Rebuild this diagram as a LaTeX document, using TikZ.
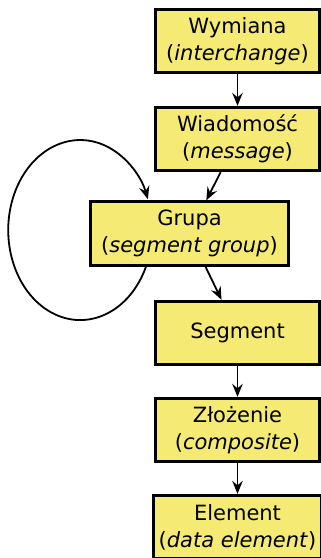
\documentclass[tikz,border=0pt]{standalone}
\usepackage{fontspec}
\setmainfont{DejaVu Sans}
\usetikzlibrary{positioning, arrows.meta}
\definecolor{boxfill}{HTML}{F5EB74}

\begin{document}
\begin{tikzpicture}[>={Stealth[length=13pt, width=10.5pt, inset=4.5pt]}, node distance=97pt, on grid,
  unitbox/.style={draw, line width=2.8pt, fill=boxfill, minimum width=164pt, minimum height=63.5pt,
    inner xsep=5pt, align=center, font=\fontsize{21}{27}\selectfont},
  every edge/.style={draw, line width=1.8pt}]
  \useasboundingbox (0,0) rectangle (321pt,-558pt);
  \node[unitbox] (wym) at (237.5pt,-41pt) {Wymiana\\(\textit{interchange})};
  \node[unitbox] (wiad) [below=98pt of wym] {Wiadomość\\(\textit{message})};
  \node[unitbox, minimum width=198.5pt] (grupa) [below left=94.5pt and 48pt of wiad] {Grupa\\(\textit{segment group})};
  \node[unitbox] (seg) [below right=99.5pt and 48pt of grupa] {Segment};
  \node[unitbox] (zloz) [below=of seg] {Złożenie\\(\textit{composite})};
  \node[unitbox] (elem) [below=of zloz] {Element\\(\textit{data element})};

  \path[->]
  (wym) edge (wiad)
  (wiad) edge (grupa)
  (grupa) edge (seg)
  (seg) edge (zloz)
  (zloz) edge (elem)
  ;
  \draw[->, line width=1.8pt] ([xshift=-43.5pt]grupa.south) arc[start angle=-24, end angle=-340, x radius=72pt, y radius=90pt];
\end{tikzpicture}
\end{document}
